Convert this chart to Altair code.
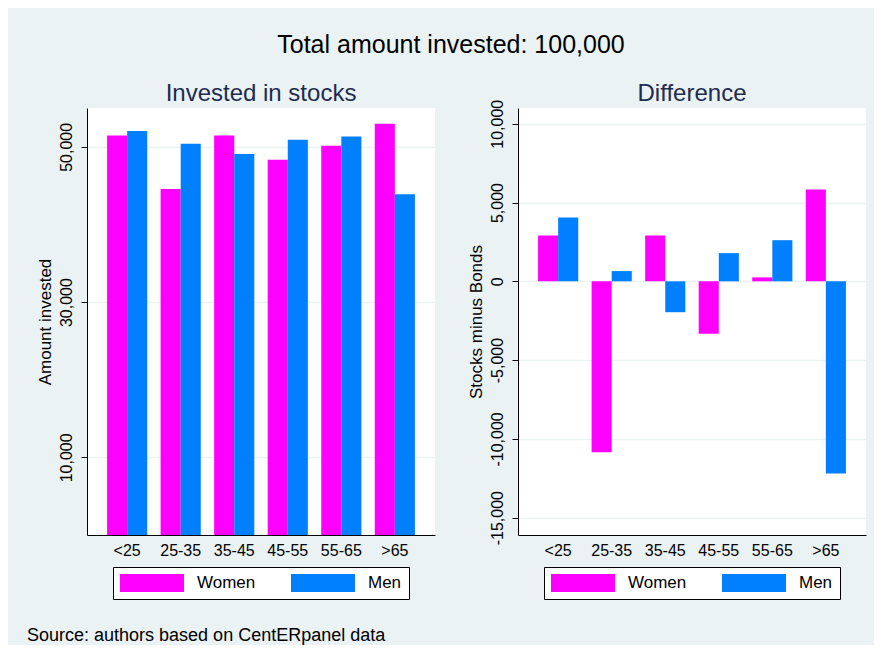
import altair as alt
import pandas as pd

ages = ["<25", "25-35", "35-45", "45-55", "55-65", ">65"]
sexes = ["Women", "Men"]
women_stocks = [51460, 44580, 51460, 48320, 50130, 52970]
men_stocks = [52030, 50390, 49060, 50900, 51330, 43900]
women_diff = [2910, -10850, 2910, -3320, 250, 5820]
men_diff = [4050, 650, -1960, 1790, 2610, -12200]

stock_ticks = [10000, 30000, 50000]
diff_ticks = [-15000, -10000, -5000, 0, 5000, 10000]

FONT = "Liberation Sans"
BG = "#EAF2F3"
LABEL_EXPR = "replace(format(datum.value, ',.0f'), '\u2212', '-')"


def frame(w, m):
    return pd.DataFrame({
        "age": ages * 2,
        "sex": ["Women"] * len(ages) + ["Men"] * len(ages),
        "value": w + m,
    })


stocks = frame(women_stocks, men_stocks)
diff = frame(women_diff, men_diff)


def panel(df, title, ytitle, domain, ticks, title_dy):
    return alt.Chart(df).mark_bar().encode(
        x=alt.X("age:N", sort=ages, title=None,
                scale=alt.Scale(paddingInner=0.25, paddingOuter=0.375),
                axis=alt.Axis(labelAngle=0, ticks=False, grid=False, labelPadding=7)),
        xOffset=alt.XOffset("sex:N", sort=sexes),
        y=alt.Y("value:Q", title=ytitle,
                scale=alt.Scale(domain=domain, nice=False, zero=False),
                axis=alt.Axis(values=ticks, labelExpr=LABEL_EXPR, labelAngle=270,
                              labelAlign="center", labelBaseline="bottom",
                              labelPadding=7, titlePadding=4, tickSize=6,
                              grid=True, gridColor=BG, gridWidth=1.5)),
        color=alt.Color("sex:N", scale=alt.Scale(domain=sexes, range=["#FF00FF", "#0080FF"]),
                        legend=alt.Legend(title=None, orient="none", legendX=26, legendY=459,
                                          direction="horizontal", columns=2)),
    ).properties(
        width=348, height=427,
        title=alt.TitleParams(title, fontSize=24, font=FONT, color="#1E2B50",
                              fontWeight="normal", anchor="middle", offset=2, dy=title_dy),
    )


left = panel(stocks, "Invested in stocks", "Amount invested", [0, 55000], stock_ticks, 0)
right = panel(diff, "Difference", "Stocks minus Bonds", [-16100, 11000], diff_ticks, 9)

inner = alt.hconcat(left, right, spacing=83, bounds="flush").resolve_scale(
    color="independent"
).resolve_legend(
    color="independent"
).properties(
    title=alt.TitleParams("Total amount invested: 100,000", fontSize=25, font=FONT, color="black",
                          fontWeight="normal", anchor="middle", offset=24)
)

chart = alt.vconcat(inner).properties(
    title=alt.TitleParams("Source: authors based on CentERpanel data", orient="bottom",
                          anchor="start", fontSize=18, font=FONT, color="black",
                          fontWeight="normal", offset=27, dx=-9),
    padding={"left": 19, "top": 25, "right": 8, "bottom": 0},
).configure(
    background=BG,
).configure_view(
    fill="white", stroke=None,
).configure_axis(
    labelFont=FONT, titleFont=FONT, labelFontSize=16, titleFontSize=17,
    labelColor="black", titleColor="black", titleFontWeight="normal",
    domainColor="black", domainWidth=1, tickColor="black",
).configure_legend(
    fillColor="white", strokeColor="black", padding=7, cornerRadius=0,
    symbolType="M-1,-1H6.11V1H-1Z", symbolSize=324, symbolStrokeWidth=0,
    symbolOpacity=1, labelFont=FONT, labelFontSize=17, labelColor="black",
    labelOffset=59, columnPadding=35,
)

chart.save("out.html", embed_options={"renderer": "svg", "actions": False})
